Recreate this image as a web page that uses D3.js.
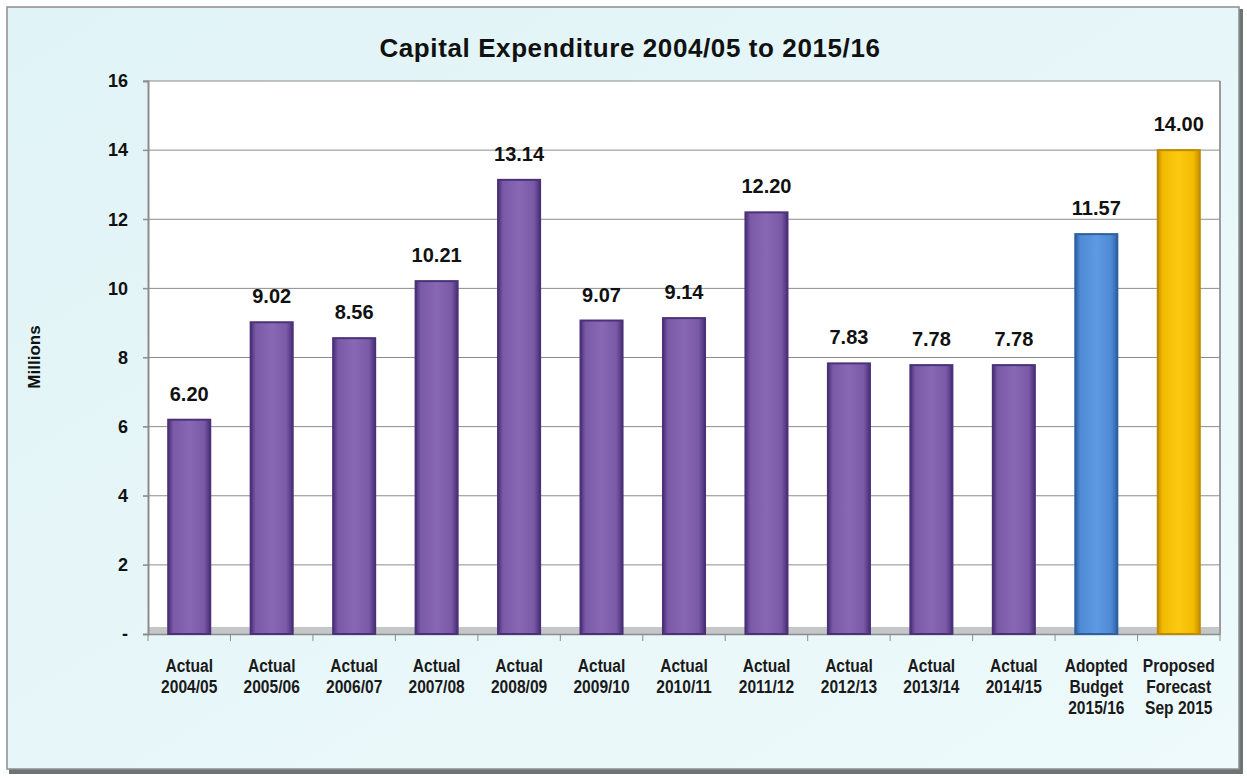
<!DOCTYPE html>
<html><head><meta charset="utf-8">
<script src="https://cdn.jsdelivr.net/npm/d3@7"></script>
<style>body{margin:0;background:#fff}</style>
</head><body><svg id="c" width="1247" height="780"></svg>
<script>
const categories = [
  ["Actual","2004/05"],["Actual","2005/06"],["Actual","2006/07"],["Actual","2007/08"],
  ["Actual","2008/09"],["Actual","2009/10"],["Actual","2010/11"],["Actual","2011/12"],
  ["Actual","2012/13"],["Actual","2013/14"],["Actual","2014/15"],
  ["Adopted","Budget","2015/16"],["Proposed","Forecast","Sep 2015"]
];
const values = [6.20, 9.02, 8.56, 10.21, 13.14, 9.07, 9.14, 12.20, 7.83, 7.78, 7.78, 11.57, 14.00];
const kinds = ["a","a","a","a","a","a","a","a","a","a","a","b","f"];
const yTicks = [0,2,4,6,8,10,12,14,16];
const title = "Capital Expenditure 2004/05 to 2015/16";
const yTitle = "Millions";

const svg = d3.select("#c");
const defs = svg.append("defs");
const bold = "'Liberation Sans',Arial,sans-serif";

// background gradient
const bg = defs.append("linearGradient").attr("id","bg").attr("x1",0).attr("y1",0).attr("x2",1).attr("y2",1);
bg.append("stop").attr("offset","0").attr("stop-color","#e0f3f6");
bg.append("stop").attr("offset","1").attr("stop-color","#eefafb");
svg.append("rect").attr("x",0).attr("y",0).attr("width",1247).attr("height",780).attr("fill","#fff");
svg.append("rect").attr("x",9).attr("y",9).attr("width",1234).attr("height",765).attr("fill","#6e7373");
svg.append("rect").attr("x",7).attr("y",7).attr("width",1232).attr("height",762).attr("fill","url(#bg)").attr("stroke","#8a8f90").attr("stroke-width",1.5);

function barGrad(id, edge, mid, light){
  const g = defs.append("linearGradient").attr("id",id).attr("x1",0).attr("x2",1).attr("y1",0).attr("y2",0);
  g.append("stop").attr("offset","0").attr("stop-color",edge);
  g.append("stop").attr("offset","0.12").attr("stop-color",mid);
  g.append("stop").attr("offset","0.5").attr("stop-color",light);
  g.append("stop").attr("offset","0.85").attr("stop-color",mid);
  g.append("stop").attr("offset","1").attr("stop-color",edge);
}
barGrad("ga","#4a2f7a","#7a5aa6","#8868b5");
barGrad("gb","#2f62a8","#4f8ad6","#5e9ae2");
barGrad("gf","#c89000","#f2bb00","#fbca10");
const strokes = {a:"#4b3278", b:"#2f5f9e", f:"#c08a00"};

const m = {l:148, r:1220, t:81, b:634};
const x = d3.scaleBand().domain(d3.range(categories.length)).range([m.l, m.r]).paddingInner(0.49).paddingOuter(0.245);
const y = d3.scaleLinear().domain([0,16]).range([m.b, m.t]);

// plot area
svg.append("rect").attr("x",m.l).attr("y",m.t).attr("width",m.r-m.l).attr("height",m.b-m.t).attr("fill","#ffffff");
// floor
svg.append("rect").attr("x",m.l).attr("y",m.b-7).attr("width",m.r-m.l).attr("height",8).attr("fill","#c4c6c8");
// right wall edge
svg.append("line").attr("x1",m.r).attr("x2",m.r).attr("y1",m.t).attr("y2",m.b).attr("stroke","#9a9c9e").attr("stroke-width",2);

// gridlines
svg.append("g").selectAll("line").data(yTicks.filter(d=>d>0)).join("line")
  .attr("x1",m.l-5).attr("x2",m.r).attr("y1",d=>y(d)).attr("y2",d=>y(d))
  .attr("stroke","#8c8c8c").attr("stroke-width",1);

// y axis
const ya = svg.append("g").attr("transform",`translate(${m.l},0)`)
  .call(d3.axisLeft(y).tickValues(yTicks).tickSize(5).tickFormat(d=>d===0?"-":d));
ya.select(".domain").attr("stroke","#8c8c8c").attr("stroke-width",2);
ya.selectAll(".tick line").attr("stroke","#8c8c8c");
ya.selectAll("text").attr("font-family",bold).attr("font-weight","bold").attr("font-size",18).attr("fill","#111").attr("x",-20);

// x axis
const xa = svg.append("g").attr("transform",`translate(0,${m.b})`)
  .call(d3.axisBottom(x).tickSize(0).tickFormat(""));
xa.select(".domain").attr("stroke","#8c8c8c").attr("stroke-width",1.5);
const step = x.step();
svg.append("g").selectAll("line").data(d3.range(categories.length+1)).join("line")
  .attr("x1",i=>m.l+i*step).attr("x2",i=>m.l+i*step).attr("y1",m.b).attr("y2",m.b+7)
  .attr("stroke","#8c8c8c");

// bars
svg.append("g").selectAll("rect").data(values).join("rect")
  .attr("x",(d,i)=>x(i)).attr("width",x.bandwidth())
  .attr("y",d=>y(d)).attr("height",d=>y(0)-y(d))
  .attr("fill",(d,i)=>`url(#g${kinds[i]})`)
  .attr("stroke",(d,i)=>strokes[kinds[i]]).attr("stroke-width",2);

// value labels
svg.append("g").selectAll("text").data(values).join("text")
  .attr("x",(d,i)=>x(i)+x.bandwidth()/2).attr("y",d=>y(d)-19)
  .attr("text-anchor","middle").attr("font-family",bold).attr("font-weight","bold")
  .attr("font-size",20).attr("fill","#111").text(d=>d.toFixed(2));

// category labels (condensed)
const cl = svg.append("g").selectAll("text").data(categories).join("text")
  .attr("transform",(d,i)=>`translate(${x(i)+x.bandwidth()/2},${m.b+38}) scale(0.82,1)`)
  .attr("text-anchor","middle").attr("font-family",bold).attr("font-weight","bold")
  .attr("font-size",19).attr("fill","#1a1a1a");
cl.selectAll("tspan").data(d=>d).join("tspan")
  .attr("x",0).attr("dy",(d,i)=>i===0?0:21).text(d=>d);

// title
svg.append("text").attr("x",630).attr("y",57).attr("text-anchor","middle")
  .attr("font-family",bold).attr("font-weight","bold").attr("font-size",26)
  .attr("letter-spacing",0.6).attr("fill","#111").text(title);
// y title
svg.append("text").attr("transform","translate(40,357) rotate(-90)").attr("text-anchor","middle")
  .attr("font-family",bold).attr("font-weight","bold").attr("font-size",17).attr("fill","#111").text(yTitle);
</script></body></html>
